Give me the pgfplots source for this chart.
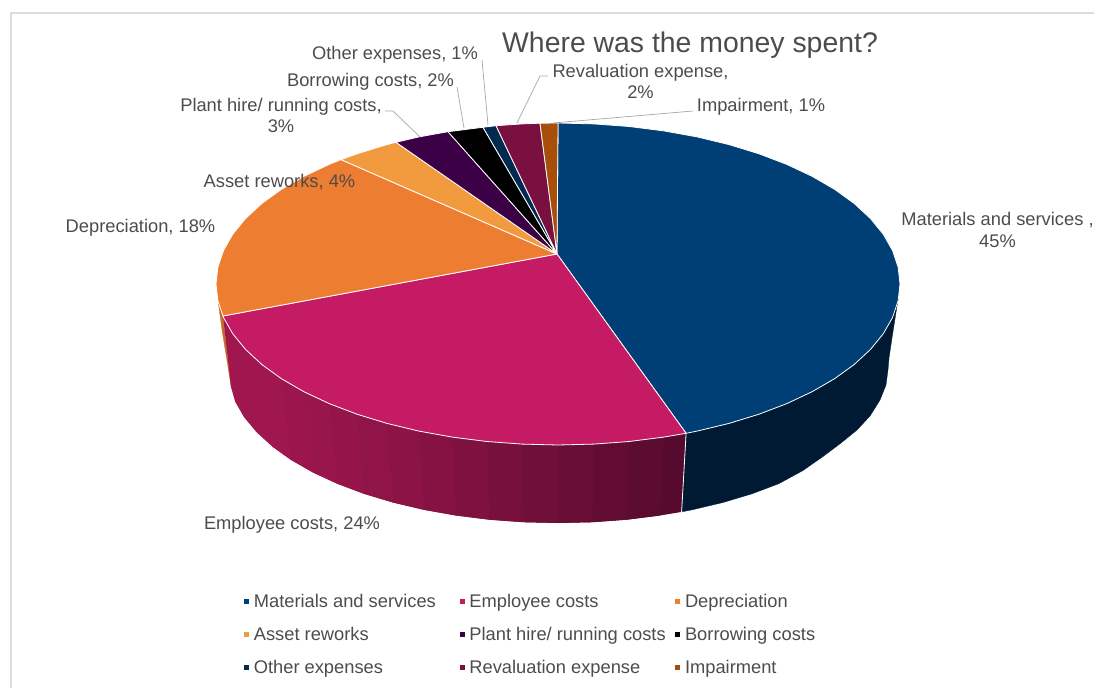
\documentclass[border=0pt]{standalone}
\usepackage{fontspec}
\setmainfont{Liberation Sans}
\usepackage{pgfplots}
\pgfplotsset{compat=1.18}
\definecolor{matc}{HTML}{003F75}
\definecolor{matside}{HTML}{001A33}
\definecolor{empc}{HTML}{C51B65}
\definecolor{emplight}{HTML}{A0174F}
\definecolor{empdark}{HTML}{560A2E}
\definecolor{depc}{HTML}{ED7D31}
\definecolor{depside}{HTML}{C96A28}
\definecolor{assc}{HTML}{F19A3E}
\definecolor{plantc}{HTML}{3B0045}
\definecolor{borc}{HTML}{000000}
\definecolor{othc}{HTML}{002A50}
\definecolor{revc}{HTML}{7A103F}
\definecolor{impc}{HTML}{A84E0B}
\definecolor{txt}{HTML}{4C4C4C}
\definecolor{leader}{HTML}{A6A6A6}
\definecolor{frame}{HTML}{DCDCDC}
\newcommand\lab{\fontsize{18.3}{21}\selectfont}
% each strip runs on under the next one, so that no seam shows
\newcommand\sidestrip[2]{\addplot[forget plot,fill=empdark!#1!emplight,draw=none] coordinates {#2};}
\begin{document}
\begin{tikzpicture}
\begin{axis}[
    scale only axis,
    width=1094pt,
    height=688pt,
    xmin=0, xmax=1094,
    ymin=0, ymax=688,
    y dir=reverse,
    hide axis,
    legend columns=3,
    legend cell align=left,
    legend image code/.code={\draw[#1,line width=.6pt] (0pt,-3pt) rectangle (6pt,3pt);},
    legend style={
        at={(0.2194,0.1424)},
        anchor=north west,
        draw=none,
        fill=none,
        font=\lab,
        text=txt,
        row sep=14pt,
    },
]
\path (axis cs:0,0) rectangle (axis cs:1094,688);
% chart frame
\addplot[forget plot,frame,line width=2pt] coordinates {(11,688) (11,13) (1094,13)};

% side wall, materials
\addplot[forget plot,fill=matside,draw=matside,line width=.3pt] coordinates {
    (899,295) (898.1,300.8) (892.5,317.5) (883.3,333.7) (870.4,349.5) (854.2,364.5) (834.7,378.6)
    (812.1,391.7) (786.8,403.6) (759,414.2) (729,423.4) (697.1,431.1) (686.1,433.3)
    (681.6,511.9) (692.2,509.8) (723,502.5) (752,493.8) (778.8,483.7) (803,470.5)
    (823,456.5) (841,443) (857,430) (870,416) (880,400) (886,385)
    (888,370) (889,358) (892,338) (897,306) (899,295)
};
% side wall, depreciation sliver
\addplot[forget plot,fill=depside,draw=depside,line width=.3pt] coordinates {
    (218.5,304) (223,316) (231,386) (228.5,370) (222,330) (218.5,304)
};
% side wall, employee costs, darkening to the right
\sidestrip{100}{(686.1,433.3) (629.1,441.5) (626.6,519.7) (660,515.5) (681.6,511.9)}
\sidestrip{92}{(663.7,437.1) (593.7,444.1) (592.5,522.2) (626.6,519.7) (660,515.5)}
\sidestrip{84}{(629.1,441.5) (558,445) (558,523) (592.5,522.2) (626.6,519.7)}
\sidestrip{75}{(593.7,444.1) (522.3,444.1) (523.5,522.2) (558,523) (592.5,522.2)}
\sidestrip{65}{(558,445) (486.9,441.5) (489.4,519.7) (523.5,522.2) (558,523)}
\sidestrip{55}{(522.3,444.1) (452.3,437.1) (456,515.5) (489.4,519.7) (523.5,522.2)}
\sidestrip{45}{(486.9,441.5) (418.9,431.1) (423.8,509.8) (456,515.5) (489.4,519.7)}
\sidestrip{36}{(452.3,437.1) (387,423.4) (393,502.5) (423.8,509.8) (456,515.5)}
\sidestrip{28}{(418.9,431.1) (357,414.2) (364,493.8) (393,502.5) (423.8,509.8)}
\sidestrip{21}{(387,423.4) (329.2,403.6) (337.2,483.7) (364,493.8) (393,502.5)}
\sidestrip{15}{(357,414.2) (303.9,391.7) (312.8,472.4) (337.2,483.7) (364,493.8)}
\sidestrip{10}{(329.2,403.6) (281.3,378.6) (291,459.9) (312.8,472.4) (337.2,483.7)}
\sidestrip{5}{(303.9,391.7) (261.8,364.5) (272.2,446.5) (291,459.9) (312.8,472.4)}
\sidestrip{0}{(281.3,378.6) (261.8,364.5) (245.6,349.5) (232.7,333.7) (223.5,317.5) (223,316)
    (231,387) (235.2,401.8) (244.1,417.3) (256.5,432.2) (272.2,446.5) (291,459.9)}
\addplot[forget plot,white,line width=.8pt] coordinates {(686.1,433.3) (681.6,511.9)};

% top face
\addplot[fill=matc,draw=white,line width=.8pt,line join=round] coordinates {
    (557,254) (558,123) (593.7,123.9) (629.1,126.5) (663.7,130.9) (697.1,136.9) (729,144.6)
    (759,153.8) (786.8,164.4) (812.1,176.3) (834.7,189.4) (854.2,203.5) (870.4,218.5)
    (883.3,234.3) (892.5,250.5) (898.1,267.2) (900,284) (898.1,300.8) (892.5,317.5)
    (883.3,333.7) (870.4,349.5) (854.2,364.5) (834.7,378.6) (812.1,391.7) (786.8,403.6)
    (759,414.2) (729,423.4) (697.1,431.1) (686.1,433.3) (557,254)
};
\addlegendentry{\makebox[205pt][l]{\hspace{2pt}Materials and services}}
\addplot[fill=empc,draw=white,line width=.8pt,line join=round] coordinates {
    (557,254) (686.1,433.3) (663.7,437.1) (629.1,441.5) (593.7,444.1) (558,445) (522.3,444.1)
    (486.9,441.5) (452.3,437.1) (418.9,431.1) (387,423.4) (357,414.2) (329.2,403.6)
    (303.9,391.7) (281.3,378.6) (261.8,364.5) (245.6,349.5) (232.7,333.7) (223.5,317.5)
    (223,316) (557,254)
};
\addlegendentry{\makebox[205pt][l]{\hspace{2pt}Employee costs}}
\addplot[fill=depc,draw=white,line width=.8pt,line join=round] coordinates {
    (557,254) (223,316) (217.9,300.8) (216,284) (217.9,267.2) (223.5,250.5) (232.7,234.3)
    (245.6,218.5) (261.8,203.5) (281.3,189.4) (303.9,176.3) (329.2,164.4) (341,159.6) (557,254)
};
\addlegendentry{\hspace{2pt}Depreciation}
\addplot[fill=assc,draw=white,line width=.8pt,line join=round] coordinates {
    (557,254) (341,159.6) (357,153.8) (387,144.6) (396,142.3) (557,254)
};
\addlegendentry{\makebox[205pt][l]{\hspace{2pt}Asset reworks}}
\addplot[fill=plantc,draw=white,line width=.8pt,line join=round] coordinates {
    (557,254) (396,142.3) (418.9,136.9) (448,131.7) (557,254)
};
\addlegendentry{\makebox[205pt][l]{\hspace{2pt}Plant hire/ running costs}}
\addplot[fill=borc,draw=white,line width=.8pt,line join=round] coordinates {
    (557,254) (448,131.7) (483,127.3) (557,254)
};
\addlegendentry{\hspace{2pt}Borrowing costs}
\addplot[fill=othc,draw=white,line width=.8pt,line join=round] coordinates {
    (557,254) (483,127.3) (496,125.7) (557,254)
};
\addlegendentry{\makebox[205pt][l]{\hspace{2pt}Other expenses}}
\addplot[fill=revc,draw=white,line width=.8pt,line join=round] coordinates {
    (557,254) (496,125.7) (522.3,123.9) (540,123.2) (557,254)
};
\addlegendentry{\makebox[205pt][l]{\hspace{2pt}Revaluation expense}}
\addplot[fill=impc,draw=white,line width=.8pt,line join=round] coordinates {
    (557,254) (540,123.2) (558,123) (557,254)
};
\addlegendentry{\hspace{2pt}Impairment}

% leader lines
\addplot[forget plot,leader,line width=.7pt] coordinates {(385,111) (393,111) (420,137)};
\addplot[forget plot,leader,line width=.7pt] coordinates {(457,87) (464,128)};
\addplot[forget plot,leader,line width=.7pt] coordinates {(482,60) (488,125)};
\addplot[forget plot,leader,line width=.7pt] coordinates {(548,76) (540,76) (517,123)};
\addplot[forget plot,leader,line width=.7pt] coordinates {(693,111) (553,123)};

% labels
\node[anchor=base,text=txt,font=\fontsize{28.4}{32}\selectfont] at (axis cs:690,52) {Where was the money spent?};
\node[anchor=base,text=txt,font=\lab] at (axis cs:395,59) {Other expenses, 1\%};
\node[anchor=base,text=txt,font=\lab] at (axis cs:370.5,86) {Borrowing costs, 2\%};
\node[anchor=base,text=txt,font=\lab] at (axis cs:281,111) {Plant hire/ running costs,};
\node[anchor=base,text=txt,font=\lab] at (axis cs:281,132) {3\%};
\node[anchor=base,text=txt,font=\lab] at (axis cs:640.5,77) {Revaluation expense,};
\node[anchor=base,text=txt,font=\lab] at (axis cs:640.5,98) {2\%};
\node[anchor=base,text=txt,font=\lab] at (axis cs:761,111) {Impairment, 1\%};
\node[anchor=base,text=txt,font=\lab] at (axis cs:279.5,187) {Asset reworks, 4\%};
\node[anchor=base,text=txt,font=\lab] at (axis cs:140.5,232) {Depreciation, 18\%};
\node[anchor=base,text=txt,font=\lab] at (axis cs:997.5,225) {Materials and services ,};
\node[anchor=base,text=txt,font=\lab] at (axis cs:997.5,247) {45\%};
\node[anchor=base,text=txt,font=\lab] at (axis cs:292,529) {Employee costs, 24\%};
\end{axis}
\end{tikzpicture}
\end{document}
